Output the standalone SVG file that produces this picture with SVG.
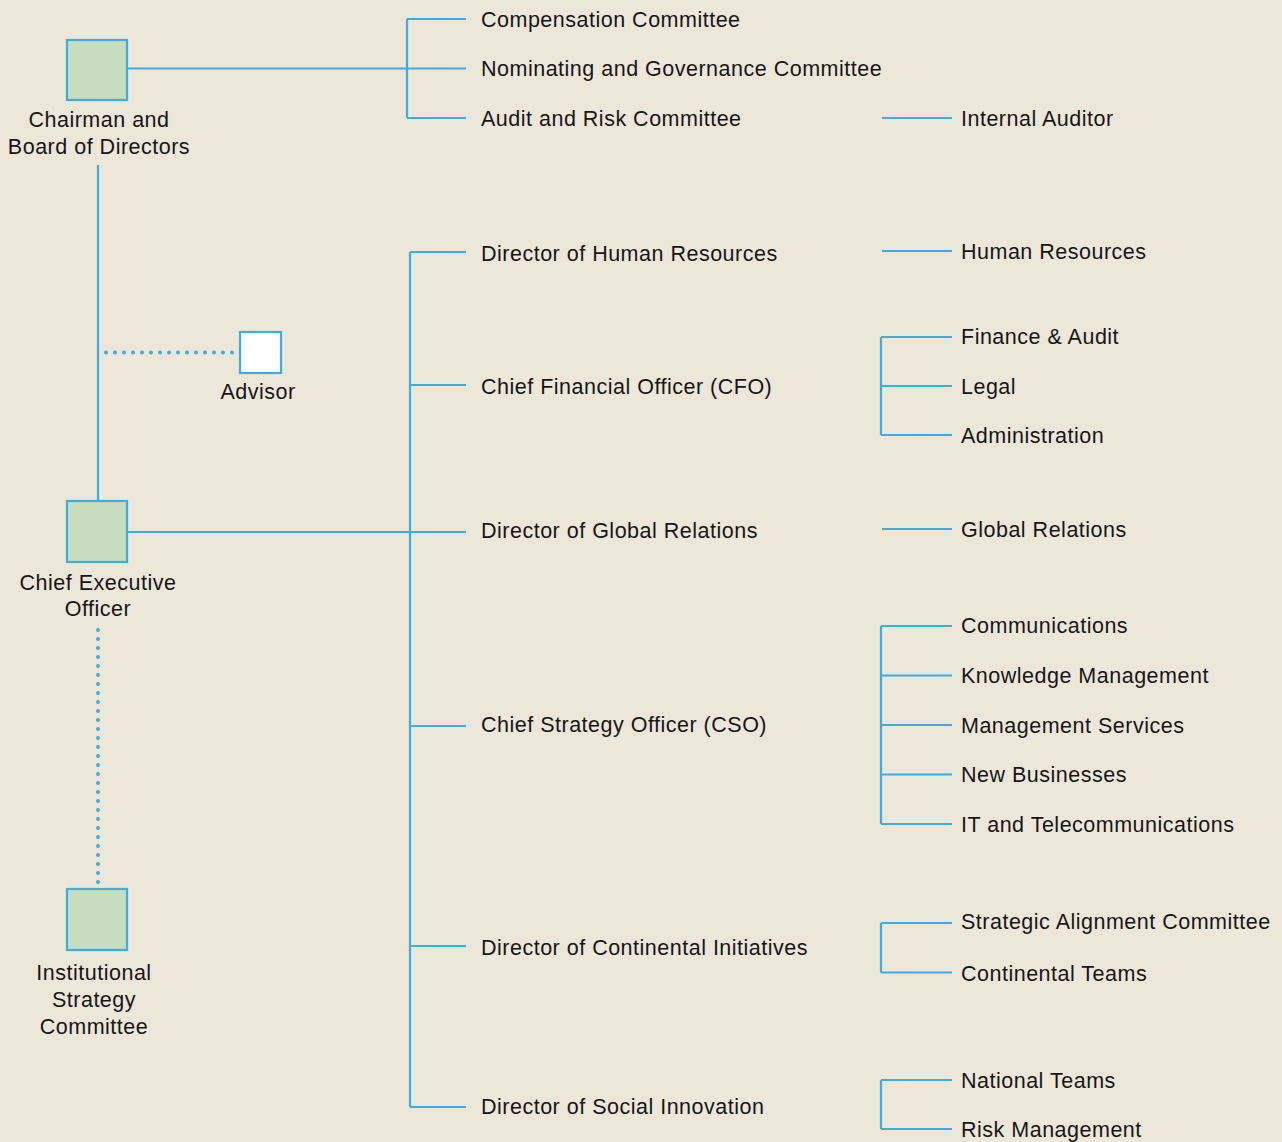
<svg xmlns="http://www.w3.org/2000/svg" width="1282" height="1142" viewBox="0 0 1282 1142">
<style>
.bg{fill:#EDE7DA}
.ln{stroke:#3AAEE5;stroke-width:2.2;fill:none}
.dot{stroke:#3AAEE5;stroke-width:4;stroke-linecap:round;stroke-dasharray:0 9;fill:none}
.box{fill:#C8DDBD;stroke:#3AAEE5;stroke-width:2.2}
.wbox{fill:#FFFFFF;stroke:#3AAEE5;stroke-width:2.2}
text{font-family:"Liberation Sans",Arial,sans-serif;font-size:21.5px;letter-spacing:0.5px;fill:#161616}
.c{text-anchor:middle}
</style>
<rect class="bg" x="0" y="0" width="1282" height="1142"/>
<g id="connectors">
<path class="ln" d="M128 68.5H407M407 19V118M407 19H466M407 68.5H466M407 118H466"/>
<path class="ln" d="M98 165V501"/>
<path class="dot" d="M106 352.5H233.5"/>
<path class="dot" d="M98 630V882.5"/>
<path class="ln" d="M128 532H466"/>
<path class="ln" d="M410 252V1107M410 252H466M410 385H466M410 532H466M410 726H466M410 946H466M410 1107H466"/>
<path class="ln" d="M882 118H952M882 251H952M882 529H952"/>
<path class="ln" d="M881 337V435M881 337H952M881 386H952M881 435H952"/>
<path class="ln" d="M881 626V824M881 626H952M881 675.5H952M881 725H952M881 774.5H952M881 824H952"/>
<path class="ln" d="M881 923V972.5M881 923H952M881 972.5H952"/>
<path class="ln" d="M881 1080V1129M881 1080H952M881 1129H952"/>
</g>
<g id="chairman">
<rect class="box" x="67" y="40" width="60" height="60"/>
<text class="c" x="99" y="127">Chairman and</text>
<text class="c" x="99" y="154">Board of Directors</text>
</g>
<g id="advisor">
<rect class="wbox" x="240" y="332" width="41" height="41"/>
<text class="c" x="258" y="399">Advisor</text>
</g>
<g id="ceo">
<rect class="box" x="67" y="501" width="60" height="61"/>
<text class="c" x="98" y="590">Chief Executive</text>
<text class="c" x="98" y="616">Officer</text>
</g>
<g id="isc">
<rect class="box" x="67" y="889" width="60" height="61"/>
<text class="c" x="94" y="980">Institutional</text>
<text class="c" x="94" y="1007">Strategy</text>
<text class="c" x="94" y="1034">Committee</text>
</g>
<g id="committees">
<text x="481" y="27">Compensation Committee</text>
<text x="481" y="76">Nominating and Governance Committee</text>
<text x="481" y="126">Audit and Risk Committee</text>
</g>
<g id="directors">
<text x="481" y="261">Director of Human Resources</text>
<text x="481" y="394">Chief Financial Officer (CFO)</text>
<text x="481" y="538">Director of Global Relations</text>
<text x="481" y="732">Chief Strategy Officer (CSO)</text>
<text x="481" y="955">Director of Continental Initiatives</text>
<text x="481" y="1114">Director of Social Innovation</text>
</g>
<g id="units">
<text x="961" y="126">Internal Auditor</text>
<text x="961" y="259">Human Resources</text>
<text x="961" y="344">Finance &amp; Audit</text>
<text x="961" y="394">Legal</text>
<text x="961" y="443">Administration</text>
<text x="961" y="537">Global Relations</text>
<text x="961" y="633">Communications</text>
<text x="961" y="683">Knowledge Management</text>
<text x="961" y="733">Management Services</text>
<text x="961" y="782">New Businesses</text>
<text x="961" y="832">IT and Telecommunications</text>
<text x="961" y="929">Strategic Alignment Committee</text>
<text x="961" y="981">Continental Teams</text>
<text x="961" y="1088">National Teams</text>
<text x="961" y="1137">Risk Management</text>
</g>
</svg>
